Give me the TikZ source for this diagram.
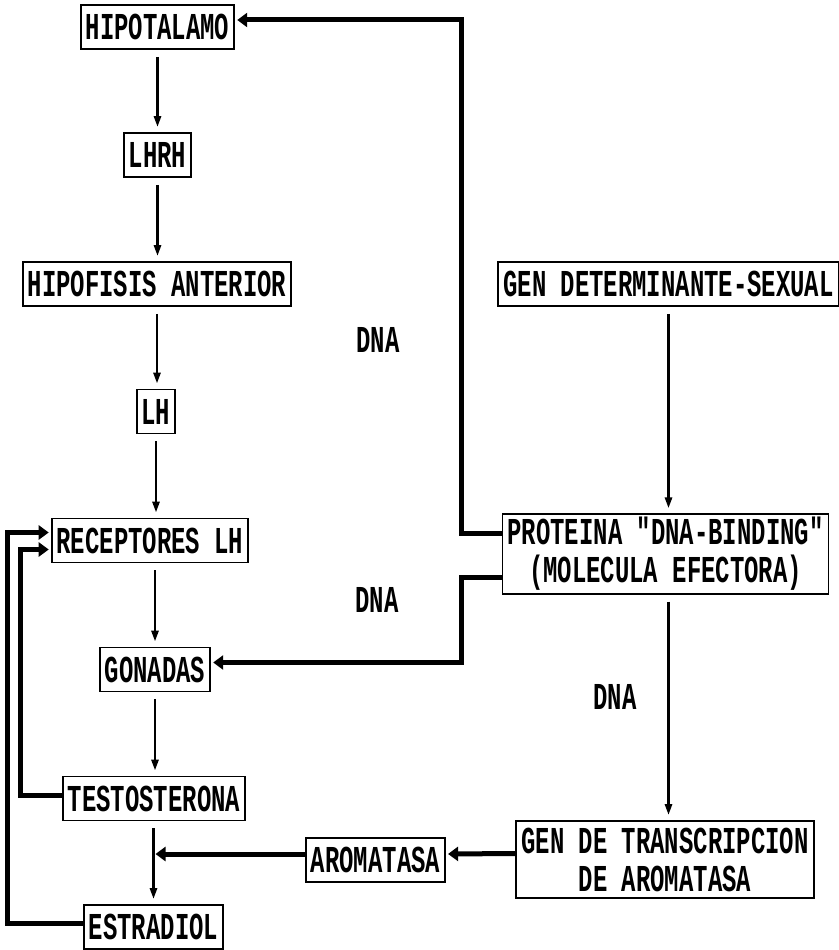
\documentclass[tikz,border=0pt]{standalone}
\usepackage{fontspec}
\newfontfamily\plotfont[FakeStretch=0.63]{Liberation Mono}
\usetikzlibrary{arrows.meta}

\begin{document}
\begin{tikzpicture}[x=1pt, y=-1pt,
  font=\plotfont\bfseries\fontsize{38pt}{38pt}\selectfont,
  box/.style={draw, line width=1.8pt, inner xsep=5pt, inner ysep=3pt, minimum height=44pt, align=center},
  thinarr/.style={-{Triangle[length=11pt,width=7pt]}, line width=2.6pt, shorten <=7pt, shorten >=5pt},
  thickarr/.style={-{Triangle[length=10pt,width=14pt]}, line width=5pt, shorten >=2pt}]
  \useasboundingbox (0,0) rectangle (838,950);
  % eje hormonal
  \node[box] (hipo) at (157.5,27) {HIPOTALAMO};
  \node[box] (lhrh) at (157.5,155) {LHRH};
  \node[box] (hipof) at (157,284) {HIPOFISIS ANTERIOR};
  \node[box] (lh) at (156,411.5) {LH};
  \node[box] (recep) at (150,540.5) {RECEPTORES LH};
  \node[box] (gonad) at (155,669.5) {GONADAS};
  \node[box] (testo) at (154,798.5) {TESTOSTERONA};
  \node[box] (estra) at (153.5,927) {ESTRADIOL};
  % gen
  \node[box] (gen) at (668.5,284) {GEN DETERMINANTE-SEXUAL};
  \node[box, minimum height=72pt] (prot) at (665.5,554) {PROTEINA "DNA-BINDING"\\(MOLECULA EFECTORA)};
  \node[box, minimum height=77pt] (trans) at (665,859.5) {GEN DE TRANSCRIPCION\\DE AROMATASA};
  \node[box] (aroma) at (375.5,860) {AROMATASA};
  \node (dna1) at (378,340) {DNA};
  \node (dna2) at (377,600) {DNA};
  \node (dna3) at (615,697) {DNA};

  \draw[thinarr] (hipo) -- (hipo |- lhrh.north);
  \draw[thinarr] (lhrh) -- (lhrh |- hipof.north);
  \draw[thinarr] (hipof) -- (hipof |- lh.north);
  \draw[thinarr] (lh) -- (lh |- recep.north);
  \draw[thinarr] (recep.south -| gonad) -- (gonad);
  \draw[thinarr] (gonad) -- (gonad |- testo.north);
  \draw[thinarr] (testo.south -| estra) -- (estra);
  \draw[thinarr] (gen) -- (gen |- prot.north);
  \draw[thinarr] (prot.south -| gen) -- (gen |- trans.north);

  \draw[thickarr] ([yshift=21pt]prot.west) -- ++(-40,0) |- ([yshift=7pt]hipo.east);
  \draw[thickarr] ([yshift=-23pt]prot.west) -- ++(-40,0) |- ([yshift=7pt]gonad.east);
  \draw[thickarr] ([yshift=3pt]testo.west) -- ++(-41,0) |- ([yshift=-9pt]recep.west);
  \draw[thickarr] ([yshift=4pt]estra.west) -- ++(-75,0) |- ([yshift=8pt]recep.west);
  \draw[thickarr] ([yshift=6pt]trans.west) -- ([yshift=6pt]aroma.east);
  \draw[thickarr] ([yshift=6pt]aroma.west) -- ([yshift=6pt]aroma.west -| estra);
\end{tikzpicture}
\end{document}
